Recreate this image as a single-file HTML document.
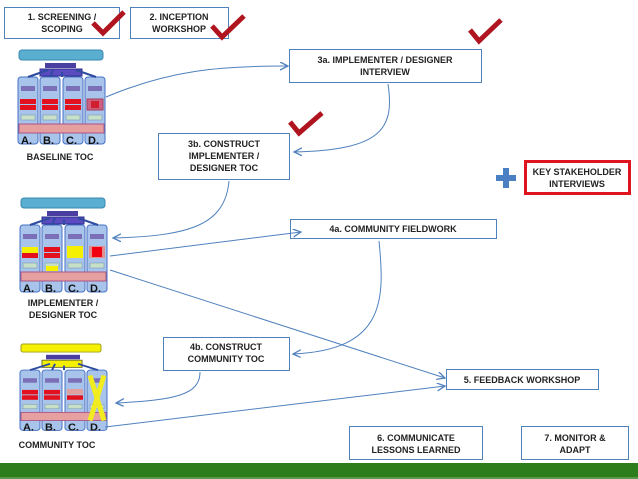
<!DOCTYPE html>
<html><head><meta charset="utf-8"><style>
body{margin:0;width:638px;height:479px;overflow:hidden;background:#fff;font-family:"Liberation Sans",sans-serif}
svg{position:absolute;left:0;top:0}
</style></head><body>
<svg width="638" height="479" viewBox="0 0 638 479" xmlns="http://www.w3.org/2000/svg" font-family="Liberation Sans, sans-serif">
<defs>
<marker id="ar" markerWidth="10" markerHeight="10" refX="8" refY="4" orient="auto" markerUnits="userSpaceOnUse"><path d="M0,0 L8,4 L0,8" fill="none" stroke="#4f81bd" stroke-width="1.3"/></marker>
<g id="cols">
<rect x="0" y="29" width="20" height="67" rx="3" fill="#a9c4ea" stroke="#4472c4"/>
<rect x="22" y="29" width="20" height="67" rx="3" fill="#a9c4ea" stroke="#4472c4"/>
<rect x="45" y="29" width="20" height="67" rx="3" fill="#a9c4ea" stroke="#4472c4"/>
<rect x="67" y="29" width="20" height="67" rx="3" fill="#a9c4ea" stroke="#4472c4"/>
<g fill="#7b6fb8"><rect x="3" y="38" width="14" height="5"/><rect x="25" y="38" width="14" height="5"/><rect x="48" y="38" width="14" height="5"/><rect x="70" y="38" width="14" height="5"/></g>
<g fill="#c8e0c8" stroke="#6a8fb0" stroke-width=".5"><rect x="3" y="67" width="14" height="5"/><rect x="25" y="67" width="14" height="5"/><rect x="48" y="67" width="14" height="5"/><rect x="70" y="67" width="14" height="5"/></g>
<rect x="1" y="76" width="85" height="9" fill="#e6a0a0" stroke="#a58"/>
<g font-size="11" font-weight="bold" fill="#111"><text x="3" y="96">A.</text><text x="25" y="96">B.</text><text x="48" y="96">C.</text><text x="70" y="96">D.</text></g>
<path d="M44,29 L44,24 M10,29 L30,22 M78,29 L58,22 M32,29 L35,22" stroke="#2f4ba0" stroke-width="2"/>
</g>
</defs>

<g fill="#fff" stroke="#4f81bd" stroke-width="1">
<rect x="4.5" y="7.5" width="115" height="31"/>
<rect x="130.5" y="7.5" width="98" height="31"/>
<rect x="289.5" y="49.5" width="192" height="33"/>
<rect x="158.5" y="133.5" width="131" height="46"/>
<rect x="290.5" y="219.5" width="206" height="19"/>
<rect x="446.5" y="369.5" width="152" height="20"/>
<rect x="163.5" y="337.5" width="126" height="33"/>
<rect x="349.5" y="426.5" width="133" height="33"/>
<rect x="521.5" y="426.5" width="107" height="33"/>
</g>
<rect x="525.5" y="161.5" width="104" height="32" fill="#fff" stroke="#e0141e" stroke-width="3"/>
<path d="M503,168h6v7h7v6h-7v7h-6v-7h-7v-6h7z" fill="#4a7fc4"/>

<g font-size="9" font-weight="bold" fill="#222" text-anchor="middle">
<text x="62" y="20">1. SCREENING /</text><text x="62" y="32">SCOPING</text>
<text x="179" y="20">2. INCEPTION</text><text x="179" y="32">WORKSHOP</text>
<text x="385" y="63">3a. IMPLEMENTER / DESIGNER</text><text x="385" y="75">INTERVIEW</text>
<text x="224" y="147">3b. CONSTRUCT</text><text x="224" y="159">IMPLEMENTER /</text><text x="224" y="171">DESIGNER TOC</text>
<text x="577" y="175">KEY STAKEHOLDER</text><text x="577" y="187">INTERVIEWS</text>
<text x="393" y="232">4a. COMMUNITY FIELDWORK</text>
<text x="522" y="383">5. FEEDBACK WORKSHOP</text>
<text x="226" y="350">4b. CONSTRUCT</text><text x="226" y="362">COMMUNITY TOC</text>
<text x="416" y="441">6. COMMUNICATE</text><text x="416" y="453">LESSONS LEARNED</text>
<text x="575" y="441">7. MONITOR &amp;</text><text x="575" y="453">ADAPT</text>
<text x="60" y="160">BASELINE TOC</text>
<text x="63" y="306">IMPLEMENTER /</text><text x="63" y="318">DESIGNER TOC</text>
<text x="57" y="448">COMMUNITY TOC</text>
</g>

<g fill="none" stroke="#b0141e" stroke-width="5" stroke-linejoin="miter">
<path d="M93,23 L103,33 L124,12"/>
<path d="M212,26 L222,37 L244,16"/>
<path d="M470,30 L479,41 L501,20"/>
<path d="M290,122 L299,133 L322,113"/>
</g>

<g transform="translate(18,48)">
<rect x="1" y="2" width="84" height="10" rx="3" fill="#5aaecf" stroke="#3a88b0"/>
<rect x="27" y="15" width="31" height="5" fill="#4a3fa0"/>
<rect x="22" y="21" width="42" height="7" fill="#5a4cc0" stroke="#2f2f90"/>
<use href="#cols"/>
<g fill="#e3101e"><rect x="2" y="51" width="16" height="5"/><rect x="2" y="57" width="16" height="5"/><rect x="24" y="51" width="16" height="5"/><rect x="24" y="57" width="16" height="5"/><rect x="47" y="51" width="16" height="5"/><rect x="47" y="57" width="16" height="5"/></g>
<rect x="69" y="51" width="16" height="11" fill="#d06080" stroke="#a04060"/><rect x="73" y="53" width="8" height="7" fill="#d02030"/>
</g>
<g transform="translate(20,196)">
<rect x="1" y="2" width="84" height="10" rx="3" fill="#5aaecf" stroke="#3a88b0"/>
<rect x="27" y="15" width="31" height="5" fill="#4a3fa0"/>
<rect x="22" y="21" width="42" height="7" fill="#5a4cc0" stroke="#2f2f90"/>
<use href="#cols"/>
<rect x="2" y="51" width="16" height="6" fill="#f5f000"/><rect x="2" y="57" width="16" height="5" fill="#e3101e"/>
<rect x="24" y="51" width="16" height="5" fill="#e3101e"/><rect x="24" y="57" width="16" height="5" fill="#e3101e"/>
<rect x="47" y="50" width="16" height="12" fill="#f5f000"/>
<rect x="69" y="50" width="16" height="12" fill="#e09090"/><rect x="72" y="51" width="10" height="10" fill="#f00010"/>
<rect x="26" y="70" width="12" height="5" fill="#f5f000"/>
</g>
<g transform="translate(20,344) scale(1,0.9)">
<rect x="1" y="0" width="80" height="9" rx="2" fill="#f5f000" stroke="#a0a020"/>
<rect x="26" y="12" width="34" height="5" fill="#4a3fa0"/>
<rect x="22" y="18" width="40" height="8" fill="#f5f000" stroke="#707030"/>
<use href="#cols"/>
<g fill="#e3101e"><rect x="2" y="51" width="16" height="5"/><rect x="2" y="57" width="16" height="5"/><rect x="24" y="51" width="16" height="5"/><rect x="24" y="57" width="16" height="5"/><rect x="47" y="57" width="16" height="5"/></g>
<rect x="47" y="50" width="16" height="6" fill="#e0a0a0"/>
<path d="M70,35 L84,85 M84,35 L70,85" stroke="#f0ec20" stroke-width="5"/>
</g>

<g fill="none" stroke="#4f81bd" stroke-width="1" marker-end="url(#ar)">
<path d="M106,97 C170,70 220,66 288,66"/>
<path d="M388,84 C395,130 380,150 294,152"/>
<path d="M229,181 C225,225 190,236 113,238"/>
<path d="M110,256 L301,232"/>
<path d="M110,270 L445,378"/>
<path d="M379,241 C385,300 385,350 293,354"/>
<path d="M200,372 C200,395 175,400 116,403"/>
<path d="M105,427 L445,386"/>
</g>

<rect x="0" y="463" width="638" height="16" fill="#2e7d1c"/>
<rect x="0" y="477" width="638" height="2" fill="#5a9a4a"/>
</svg>
</body></html>
